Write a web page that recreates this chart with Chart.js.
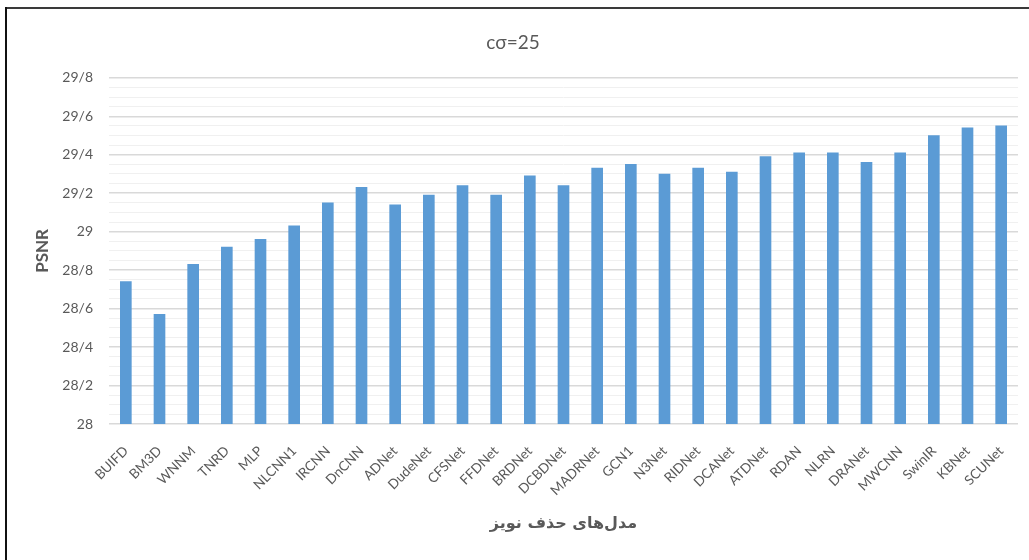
<!DOCTYPE html>
<html>
<head>
<meta charset="utf-8">
<script src="https://cdn.jsdelivr.net/npm/chart.js@4/dist/chart.umd.min.js"></script>
<style>
  html, body { margin: 0; padding: 0; background: #fff; }
  #wrap { position: relative; width: 1029px; height: 560px; overflow: hidden; }
  #frameTop { position: absolute; left: 5px; top: 7px; width: 1024px; height: 2px; background: #3a3a3a; }
  #frameLeft { position: absolute; left: 5px; top: 7px; width: 2px; height: 553px; background: #111; }
  canvas { position: absolute; left: 0; top: 0; }
</style>
</head>
<body>
<div id="wrap">
  <canvas id="chart" width="1029" height="560"></canvas>
  <div id="frameTop"></div>
  <div id="frameLeft"></div>
</div>
<script>
// Denoising models and their PSNR (dB) at noise level 25
const models = ['BUIFD', 'BM3D', 'WNNM', 'TNRD', 'MLP', 'NLCNN1', 'IRCNN', 'DnCNN', 'ADNet',
  'DudeNet', 'CFSNet', 'FFDNet', 'BRDNet', 'DCBDNet', 'MADRNet', 'GCN1', 'N3Net', 'RIDNet',
  'DCANet', 'ATDNet', 'RDAN', 'NLRN', 'DRANet', 'MWCNN', 'SwinIR', 'KBNet', 'SCUNet'];
const psnr = [28.74, 28.57, 28.83, 28.92, 28.96, 29.03, 29.15, 29.23, 29.14,
  29.19, 29.24, 29.19, 29.29, 29.24, 29.33, 29.35, 29.30, 29.33,
  29.31, 29.39, 29.41, 29.41, 29.36, 29.41, 29.50, 29.54, 29.55];

const chartTitle = 'cσ=25';
const xTitle = 'مدل‌های حذف نویز';
const yTitle = 'PSNR';
const yMin = 28, yMax = 29.8, majorStep = 0.2, minorStep = 0.05;
const decimalMark = '/';

const textColor = '#595959';
const isMajor = v => Math.abs(v / majorStep - Math.round(v / majorStep)) < 1e-6;
const fmt = v => String(Math.round(v * 10) / 10).replace('.', decimalMark);

new Chart(document.getElementById('chart'), {
  type: 'bar',
  data: {
    labels: models,
    datasets: [{
      data: psnr,
      backgroundColor: '#5B9BD5',
      borderWidth: 0,
      barThickness: 11
    }]
  },
  options: {
    responsive: false,
    animation: false,
    layout: { padding: { left: 8, right: 11, top: 10, bottom: 10 } },
    plugins: {
      legend: { display: false },
      tooltip: { enabled: false },
      title: {
        display: true,
        text: chartTitle,
        color: textColor,
        font: { family: 'Lato, "DejaVu Sans", sans-serif', size: 19, weight: 'normal' },
        padding: { top: 21, bottom: 24 }
      }
    },
    scales: {
      x: {
        grid: { display: false },
        border: { display: false },
        ticks: {
          color: textColor,
          font: { family: 'Lato, "DejaVu Sans", sans-serif', size: 13.5 },
          minRotation: 45,
          maxRotation: 45,
          autoSkip: false,
          padding: 11
        },
        title: {
          display: true,
          text: xTitle,
          color: textColor,
          font: { family: '"DejaVu Sans", sans-serif', size: 16, weight: 'bold' },
          padding: { top: 0, bottom: 17 }
        },
        afterFit: s => { s.height = 126; }
      },
      y: {
        min: yMin,
        max: yMax,
        border: { display: false },
        grid: {
          drawTicks: false,
          color: c => isMajor(c.tick.value) ? '#d9d9d9' : '#f0f0f0',
          lineWidth: c => isMajor(c.tick.value) ? 1.5 : 1
        },
        ticks: {
          stepSize: minorStep,
          autoSkip: false,
          color: textColor,
          font: { family: 'Lato, "DejaVu Sans", sans-serif', size: 14 },
          padding: 16,
          callback: v => isMajor(v) ? fmt(v) : ''
        },
        title: {
          display: true,
          text: yTitle,
          color: textColor,
          font: { family: 'Lato, "DejaVu Sans", sans-serif', size: 17, weight: 'bold' },
          padding: { top: 24, bottom: 0 }
        },
        afterFit: s => { s.width = 101; }
      }
    }
  }
});
</script>
</body>
</html>
